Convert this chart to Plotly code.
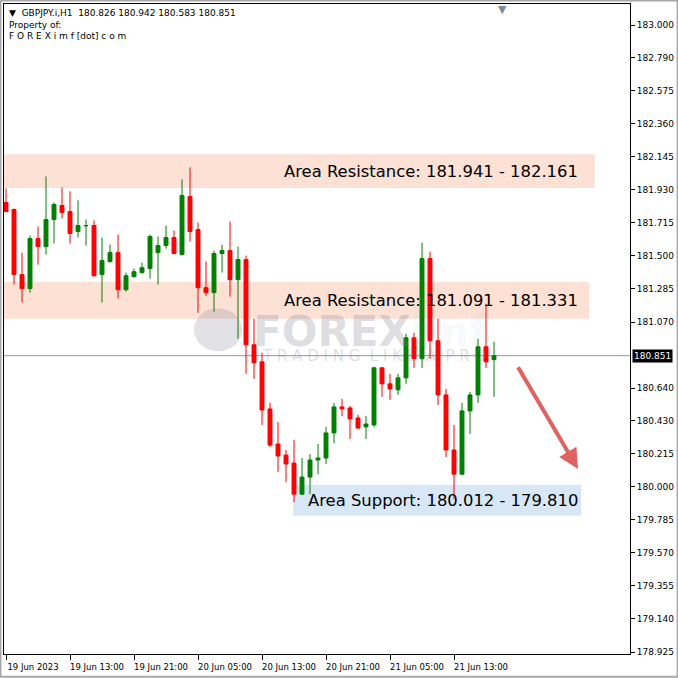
import plotly.graph_objects as go

# ---- data (GBPJPY.i, H1) ----
bar_index = list(range(62))
opens = [181.847, 181.801, 181.378, 181.287, 181.612, 181.560, 181.736, 181.827, 181.788, 181.658,
         181.695, 181.697, 181.378, 181.463, 181.521, 181.280, 181.365, 181.391, 181.417, 181.521,
         181.567, 181.619, 181.508, 181.886, 181.671, 181.293, 181.261, 181.515, 181.534, 181.345,
         181.476, 180.922, 180.811, 180.505, 180.277, 180.205, 180.153, 179.951, 180.062, 180.173,
         180.186, 180.349, 180.518, 180.511, 180.446, 180.388, 180.401, 180.772, 180.668, 180.629,
         180.707, 180.967, 180.831, 181.482, 180.948, 180.596, 180.238, 180.081, 180.492, 180.596,
         180.909, 180.826]
highs = [181.938, 181.808, 181.521, 181.632, 181.691, 182.016, 181.847, 181.945, 181.919, 181.860,
         181.736, 181.730, 181.619, 181.573, 181.638, 181.391, 181.417, 181.456, 181.638, 181.626,
         181.697, 181.665, 181.997, 182.075, 181.717, 181.463, 181.534, 181.573, 181.723, 181.560,
         181.502, 181.091, 180.870, 180.544, 180.420, 180.238, 180.303, 180.186, 180.212, 180.277,
         180.388, 180.544, 180.570, 180.524, 180.466, 180.459, 180.779, 180.775, 180.733, 180.733,
         180.994, 181.000, 181.586, 181.528, 181.091, 180.635, 180.401, 180.544, 180.616, 180.961,
         181.189, 180.942]
lows = [181.782, 181.313, 181.196, 181.261, 181.443, 181.508, 181.580, 181.743, 181.580, 181.619,
        181.567, 181.365, 181.196, 181.456, 181.222, 181.267, 181.358, 181.384, 181.352, 181.313,
        181.547, 181.510, 181.502, 181.593, 181.130, 181.241, 181.137, 181.391, 181.235, 180.961,
        180.733, 180.700, 180.401, 180.257, 180.094, 180.029, 179.899, 179.945, 179.951, 180.081,
        180.147, 180.283, 180.459, 180.309, 180.375, 180.309, 180.388, 180.583, 180.564, 180.596,
        180.668, 180.772, 180.772, 180.831, 180.531, 180.192, 179.918, 180.075, 180.342, 180.544,
        180.772, 180.583]
closes = [181.788, 181.378, 181.287, 181.612, 181.560, 181.736, 181.834, 181.782, 181.645, 181.697,
          181.697, 181.371, 181.469, 181.521, 181.280, 181.371, 181.397, 181.423, 181.626, 181.567,
          181.619, 181.515, 181.893, 181.658, 181.293, 181.261, 181.515, 181.534, 181.345, 181.476,
          180.922, 180.805, 180.498, 180.270, 180.199, 180.147, 179.951, 180.062, 180.173, 180.186,
          180.349, 180.518, 180.505, 180.440, 180.381, 180.407, 180.772, 180.668, 180.635, 180.707,
          180.967, 180.831, 181.482, 180.948, 180.596, 180.238, 180.081, 180.492, 180.596, 180.909,
          180.811, 180.851]

time_tick_pos = [0, 8, 16, 24, 32, 40, 48, 56]
time_tick_text = ["19 Jun 2023", "19 Jun 13:00", "19 Jun 21:00", "20 Jun 05:00",
                  "20 Jun 13:00", "20 Jun 21:00", "21 Jun 05:00", "21 Jun 13:00"]
price_ticks = [183.000, 182.790, 182.575, 182.360, 182.145, 181.930, 181.715, 181.500, 181.285,
               181.070, 180.640, 180.430, 180.215, 180.000, 179.785, 179.570, 179.355, 179.140, 178.925]

current_price = 180.851
zone_names = ["Area Resistance", "Area Resistance", "Area Support"]
zone_low = [181.941, 181.091, 179.810]
zone_high = [182.161, 181.331, 180.012]
zone_start = [-0.25, -0.25, 35.9]
zone_end = [73.6, 72.9, 71.9]
zone_colors = ["rgb(253,225,212)", "rgb(253,225,212)", "rgb(216,231,246)"]
zone_labels = ["Area Resistance: 181.941 - 182.161",
               "Area Resistance: 181.091 - 181.331",
               "Area Support: 180.012 - 179.810"]
arrow_from = (63.9, 180.785)
arrow_to = (71.5, 180.114)

FONT = "DejaVu Sans"

fig = go.Figure()
fig.add_trace(go.Candlestick(
    x=bar_index, open=opens, high=highs, low=lows, close=closes,
    increasing=dict(line=dict(color="#008000", width=1), fillcolor="#008000"),
    decreasing=dict(line=dict(color="#ff0000", width=1), fillcolor="#ff0000"),
    whiskerwidth=0, showlegend=False, hoverinfo="skip",
))

shapes = []
for lo, hi, x0, x1, col in zip(zone_low, zone_high, zone_start, zone_end, zone_colors):
    shapes.append(dict(type="rect", xref="x", yref="y", x0=x0, x1=x1, y0=lo, y1=hi,
                       fillcolor=col, line=dict(width=0), layer="below"))
shapes.append(dict(type="line", xref="paper", yref="y", x0=0, x1=1, y0=current_price, y1=current_price,
                   line=dict(color="#8a97a3", width=1), layer="below"))
# watermark logo circle
shapes.append(dict(type="circle", xref="x", yref="y", x0=23.5, x1=29.5, y0=180.88, y1=181.16,
                   fillcolor="rgba(120,120,140,0.22)", line=dict(width=0), layer="below"))
# window frame
shapes.append(dict(type="rect", xref="paper", yref="paper", x0=-0.0056, x1=1.076, y0=-0.035, y1=1.0055,
                   line=dict(color="#a8a8a8", width=2), fillcolor="rgba(0,0,0,0)"))

annotations = []
for lo, hi, x1, txt in zip(zone_low, zone_high, [71.75, 71.75, 71.75], zone_labels):
    annotations.append(dict(x=x1, y=(lo + hi) / 2, xref="x", yref="y", text=txt, showarrow=False,
                            xanchor="right", yanchor="middle", font=dict(family=FONT, size=16.4, color="#000")))
annotations.append(dict(x=arrow_to[0], y=arrow_to[1], ax=arrow_from[0], ay=arrow_from[1],
                        xref="x", yref="y", axref="x", ayref="y", text="", showarrow=True,
                        arrowhead=2, arrowsize=1, arrowwidth=4, arrowcolor="rgba(222,80,80,0.9)"))
annotations.append(dict(x=1, y=current_price, xref="paper", yref="y", text="180.851", showarrow=False,
                        xanchor="left", yanchor="middle", xshift=2, bgcolor="#000",
                        font=dict(family=FONT, size=9, color="#fff"), borderpad=1))
annotations.append(dict(x=0, y=1, xref="paper", yref="paper", xanchor="left", yanchor="top",
                        xshift=3, yshift=-2, showarrow=False, align="left",
                        text="▼  GBPJPY.i,H1  180.826 180.942 180.583 180.851<br>Property of:<br>F O R E X i m f [dot] c o m",
                        font=dict(family=FONT, size=9, color="#000")))
annotations.append(dict(x=62.1, y=1, xref="x", yref="paper", xanchor="center", yanchor="top",
                        yshift=3, showarrow=False, text="▼", font=dict(family=FONT, size=11, color="#7d8a96")))
# watermark text
annotations.append(dict(x=30.6, y=181.01, xref="x", yref="y", xanchor="left", yanchor="middle",
                        showarrow=False,
                        text="<b>FOREX</b><span style='color:rgba(150,170,200,0.35)'><b>imf</b></span>",
                        font=dict(family=FONT, size=42, color="rgba(120,120,140,0.25)")))
annotations.append(dict(x=31.8, y=180.85, xref="x", yref="y", xanchor="left", yanchor="middle",
                        showarrow=False, text="T R A D I N G  L I K E  A  P R O",
                        font=dict(family=FONT, size=15, color="rgba(120,120,140,0.25)")))

fig.update_layout(
    width=678, height=678,
    margin=dict(l=4, r=48, t=4, b=24),
    paper_bgcolor="#fff", plot_bgcolor="#fff",
    shapes=shapes, annotations=annotations,
    boxgap=0.3,
    showlegend=False,
    xaxis=dict(range=[-0.25, 78], rangeslider=dict(visible=False), showgrid=False, zeroline=False,
               tickmode="array", tickvals=time_tick_pos, ticktext=time_tick_text,
               ticks="outside", ticklen=5, tickcolor="#000", ticklabelshift=27,
               showline=True, linecolor="#000", linewidth=1, mirror=True,
               tickfont=dict(family=FONT, size=8.5, color="#000"), fixedrange=True),
    yaxis=dict(range=[178.912, 183.137], side="right", showgrid=False, zeroline=False,
               tickmode="array", tickvals=price_ticks, ticktext=[f"{v:.3f}" for v in price_ticks],
               ticks="outside", ticklen=4, tickcolor="#000",
               showline=True, linecolor="#000", linewidth=1, mirror=True,
               tickfont=dict(family=FONT, size=9, color="#000"), fixedrange=True),
)

fig.write_html("out.html", config={"displayModeBar": False},
               post_script="document.body.style.margin='0';document.body.style.overflow='hidden';")
